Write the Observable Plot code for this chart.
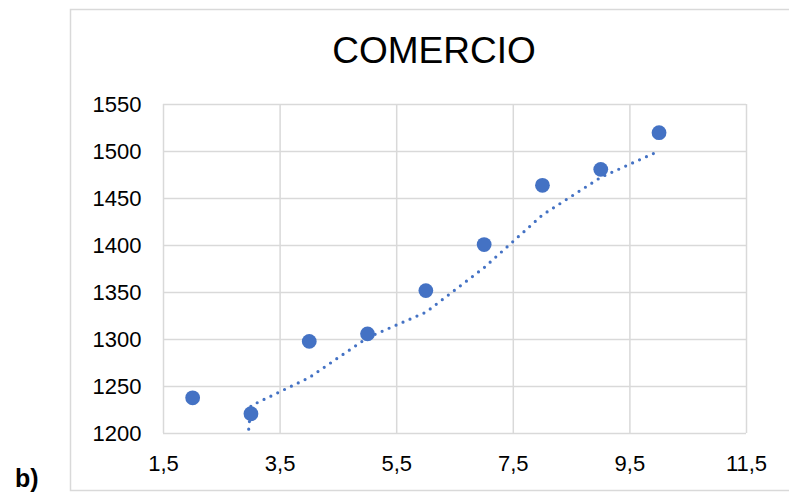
<!DOCTYPE html>
<html>
<head>
<meta charset="utf-8">
<script src="https://cdn.jsdelivr.net/npm/d3@7"></script>
<script src="https://cdn.jsdelivr.net/npm/@observablehq/plot@0.6"></script>
<style>
  html, body { margin: 0; padding: 0; background: #fff; }
  #wrap { position: relative; width: 789px; height: 502px; overflow: hidden; font-family: "Liberation Sans", Arial, sans-serif; }
  #wrap svg { position: absolute; left: 0; top: 0; }
</style>
</head>
<body>
<div id="wrap"></div>
<script>
// Data
const title = "COMERCIO";
const panelLabel = "b)";
const xValues = [2, 3, 4, 5, 6, 7, 8, 9, 10];
const yValues = [1238, 1221, 1298, 1306, 1352, 1401, 1464, 1481, 1520];
// moving-average (period 2) trendline as drawn, with its clipped lead-in
const trendX = [2.8, 3, 4, 5, 6, 7, 8, 9, 10];
const trendY = [1100, 1229.5, 1259.5, 1302, 1329, 1376.5, 1432.5, 1472.5, 1500.5];
const xTicks = [1.5, 3.5, 5.5, 7.5, 9.5, 11.5];
const yTicks = [1200, 1250, 1300, 1350, 1400, 1450, 1500, 1550];

const points = xValues.map((x, i) => ({x, y: yValues[i]}));
const trend = trendX.map((x, i) => ({x, y: trendY[i]}));

const blue = "#4472C4";
const grid = "#d9d9d9";
const fmtX = d => String(d).replace(".", ",");
const fmtY = d => String(d);

const wrap = document.getElementById("wrap");

// outer frame
const deco = d3.create("svg").attr("width", 789).attr("height", 502);
deco.append("rect").attr("x", 70.5).attr("y", 9.5).attr("width", 730).attr("height", 481)
  .attr("fill", "#fff").attr("stroke", grid).attr("stroke-width", 1.5);
wrap.appendChild(deco.node());

const chart = Plot.plot({
  width: 789,
  height: 502,
  marginLeft: 163,
  marginRight: 43,
  marginTop: 104,
  marginBottom: 69,
  style: {fontFamily: "Liberation Sans, Arial, sans-serif", fontSize: "22px", color: "#000", background: "none"},
  x: {domain: [1.5, 11.5], ticks: xTicks, tickFormat: fmtX, label: null},
  y: {domain: [1200, 1550], ticks: yTicks, tickFormat: fmtY, label: null},
  marks: [
    Plot.gridX(xTicks, {stroke: grid, strokeOpacity: 1, strokeWidth: 1.5}),
    Plot.gridY(yTicks, {stroke: grid, strokeOpacity: 1, strokeWidth: 1.5}),
    Plot.axisX(xTicks, {tickSize: 0, tickPadding: 22, fontSize: 22, fill: "#000", tickFormat: fmtX, label: null}),
    Plot.axisY(yTicks, {tickSize: 0, tickPadding: 22, fontSize: 22, fill: "#000", tickFormat: fmtY, label: null}),
    Plot.line(trend, {x: "x", y: "y", stroke: blue, strokeWidth: 3.2, strokeDasharray: "0,7.6", strokeLinecap: "round", clip: true}),
    Plot.dot(points, {x: "x", y: "y", r: 7.4, fill: blue, stroke: "none"})
  ]
});
wrap.appendChild(chart);

const over = d3.create("svg").attr("width", 789).attr("height", 502).style("pointer-events", "none");
over.append("text").attr("x", 434).attr("y", 63).attr("text-anchor", "middle")
  .attr("font-family", "Liberation Sans, Arial, sans-serif").attr("font-size", 37).attr("fill", "#000")
  .text(title);
over.append("text").attr("x", 15).attr("y", 487)
  .attr("font-family", "Liberation Sans, Arial, sans-serif").attr("font-size", 25).attr("font-weight", "bold").attr("fill", "#000")
  .text(panelLabel);
wrap.appendChild(over.node());
</script>
</body>
</html>
